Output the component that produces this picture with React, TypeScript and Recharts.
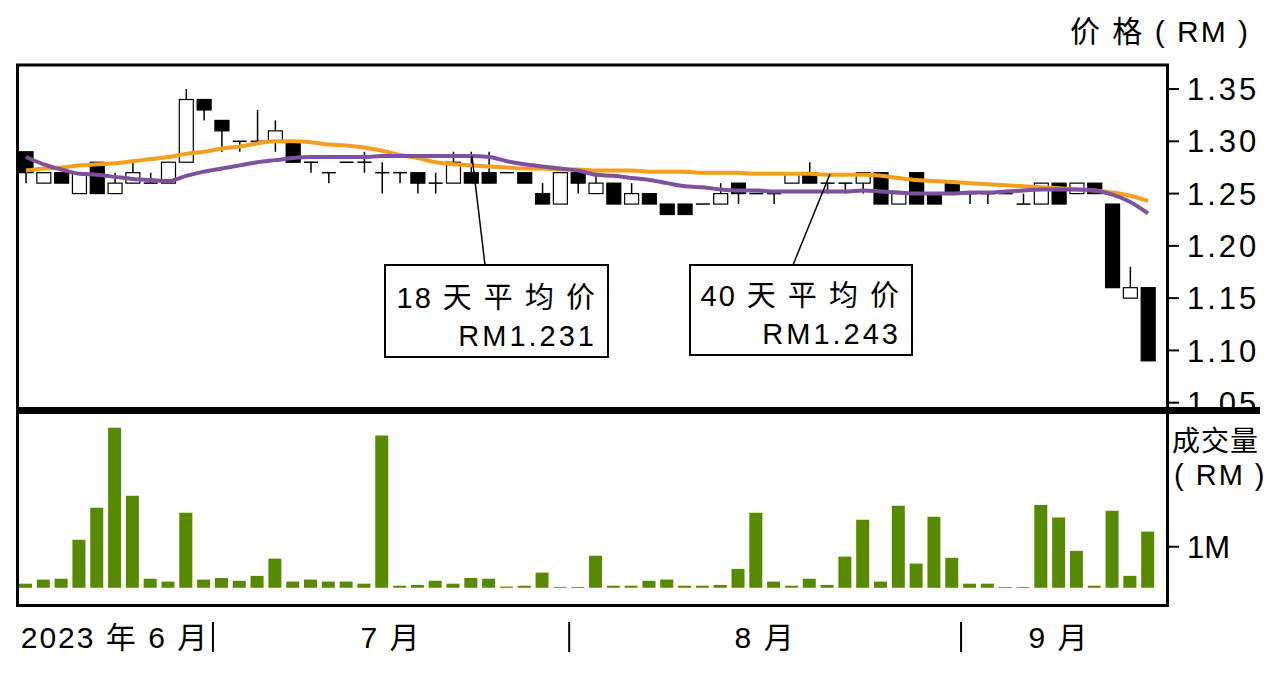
import React from 'react';
import { ComposedChart, Bar, Line, XAxis, YAxis } from 'recharts';

const FONT = "'Liberation Sans', Arial, 'Noto Sans CJK SC', sans-serif";

// trading days, mid June to mid September 2023
const dates = [
  '2023-06-15', '2023-06-16', '2023-06-19', '2023-06-20', '2023-06-21', '2023-06-22', '2023-06-23', '2023-06-26',
  '2023-06-27', '2023-06-28', '2023-06-30',
  '2023-07-03', '2023-07-04', '2023-07-05', '2023-07-06', '2023-07-07', '2023-07-10', '2023-07-11', '2023-07-12',
  '2023-07-13', '2023-07-14', '2023-07-17', '2023-07-18', '2023-07-20', '2023-07-21', '2023-07-24', '2023-07-25',
  '2023-07-26', '2023-07-27', '2023-07-28', '2023-07-31',
  '2023-08-01', '2023-08-02', '2023-08-03', '2023-08-04', '2023-08-07', '2023-08-08', '2023-08-09', '2023-08-10',
  '2023-08-11', '2023-08-14', '2023-08-15', '2023-08-16', '2023-08-17', '2023-08-18', '2023-08-21', '2023-08-22',
  '2023-08-23', '2023-08-24', '2023-08-25', '2023-08-28', '2023-08-29', '2023-08-30',
  '2023-09-01', '2023-09-04', '2023-09-05', '2023-09-06', '2023-09-07', '2023-09-08', '2023-09-11', '2023-09-12',
  '2023-09-13', '2023-09-14', '2023-09-15',
];

const open = [
  1.29, 1.26, 1.27, 1.25, 1.28, 1.25, 1.26, 1.26, 1.26, 1.28, 1.34, 1.32, 1.30, 1.30, 1.30, 1.30,
  1.28, 1.27, 1.28, 1.28, 1.27, 1.27, 1.27, 1.26, 1.26, 1.27, 1.27, 1.27, 1.27, 1.25, 1.24, 1.27,
  1.25, 1.26, 1.24, 1.25, 1.24, 1.24, 1.24, 1.24, 1.26, 1.25, 1.25, 1.26, 1.27, 1.26, 1.26, 1.26,
  1.27, 1.24, 1.27, 1.25, 1.26, 1.25, 1.25, 1.25, 1.24, 1.24, 1.26, 1.25, 1.26, 1.24, 1.15, 1.16,
];
const high = [
  1.29, 1.27, 1.27, 1.27, 1.28, 1.27, 1.28, 1.27, 1.28, 1.35, 1.34, 1.32, 1.30, 1.33, 1.32, 1.30,
  1.28, 1.27, 1.28, 1.29, 1.28, 1.27, 1.27, 1.27, 1.29, 1.29, 1.29, 1.27, 1.27, 1.26, 1.27, 1.27,
  1.27, 1.26, 1.26, 1.25, 1.24, 1.24, 1.24, 1.26, 1.26, 1.25, 1.25, 1.27, 1.28, 1.26, 1.26, 1.27,
  1.27, 1.25, 1.27, 1.25, 1.26, 1.25, 1.25, 1.25, 1.25, 1.26, 1.26, 1.26, 1.26, 1.24, 1.18, 1.16,
];
const low = [
  1.26, 1.26, 1.26, 1.25, 1.25, 1.25, 1.26, 1.26, 1.26, 1.28, 1.32, 1.29, 1.29, 1.30, 1.29, 1.28,
  1.27, 1.26, 1.28, 1.27, 1.25, 1.26, 1.25, 1.25, 1.26, 1.26, 1.26, 1.27, 1.26, 1.24, 1.24, 1.25,
  1.25, 1.24, 1.24, 1.24, 1.23, 1.23, 1.24, 1.24, 1.24, 1.25, 1.24, 1.26, 1.26, 1.25, 1.25, 1.25,
  1.24, 1.24, 1.24, 1.24, 1.25, 1.24, 1.24, 1.25, 1.24, 1.24, 1.24, 1.25, 1.25, 1.16, 1.15, 1.09,
];
const close = [
  1.27, 1.27, 1.26, 1.27, 1.25, 1.26, 1.27, 1.26, 1.28, 1.34, 1.33, 1.31, 1.30, 1.30, 1.31, 1.28,
  1.28, 1.27, 1.28, 1.28, 1.27, 1.27, 1.26, 1.26, 1.28, 1.26, 1.26, 1.27, 1.26, 1.24, 1.27, 1.26,
  1.26, 1.24, 1.25, 1.24, 1.23, 1.23, 1.24, 1.25, 1.25, 1.25, 1.25, 1.27, 1.26, 1.26, 1.26, 1.27,
  1.24, 1.25, 1.24, 1.24, 1.25, 1.25, 1.25, 1.25, 1.24, 1.26, 1.24, 1.26, 1.25, 1.16, 1.16, 1.09,
];

// 18-day and 40-day moving averages
const ma18 = [
  1.285, 1.278, 1.273, 1.269, 1.268, 1.266, 1.264, 1.263, 1.262, 1.267, 1.271, 1.274, 1.277, 1.280, 1.282, 1.284,
  1.285, 1.285, 1.285, 1.285, 1.286, 1.286, 1.286, 1.286, 1.286, 1.286, 1.285, 1.281, 1.278, 1.276, 1.274, 1.272,
  1.268, 1.267, 1.265, 1.263, 1.260, 1.257, 1.256, 1.254, 1.253, 1.253, 1.252, 1.252, 1.252, 1.252, 1.252, 1.253,
  1.252, 1.251, 1.250, 1.250, 1.250, 1.251, 1.251, 1.252, 1.253, 1.254, 1.254, 1.254, 1.253, 1.249, 1.242, 1.231,
];
const ma40 = [
  1.272, 1.274, 1.275, 1.277, 1.278, 1.279, 1.281, 1.283, 1.285, 1.288, 1.290, 1.293, 1.295, 1.298, 1.300, 1.300,
  1.299, 1.297, 1.296, 1.294, 1.291, 1.287, 1.284, 1.280, 1.278, 1.277, 1.276, 1.275, 1.274, 1.274, 1.273, 1.273,
  1.272, 1.272, 1.272, 1.271, 1.271, 1.271, 1.270, 1.270, 1.270, 1.269, 1.269, 1.269, 1.269, 1.268, 1.268, 1.268,
  1.267, 1.265, 1.263, 1.262, 1.261, 1.260, 1.259, 1.258, 1.257, 1.256, 1.255, 1.254, 1.253, 1.251, 1.248, 1.243,
];

// volume, RM million
const volume = [
  0.10, 0.20, 0.22, 1.17, 1.95, 3.90, 2.24, 0.22, 0.15, 1.83, 0.20, 0.24, 0.17, 0.29, 0.71, 0.15,
  0.20, 0.15, 0.15, 0.10, 3.71, 0.05, 0.07, 0.17, 0.10, 0.24, 0.22, 0.03, 0.05, 0.37, 0.02, 0.02,
  0.78, 0.05, 0.05, 0.17, 0.20, 0.05, 0.05, 0.07, 0.46, 1.83, 0.15, 0.05, 0.22, 0.07, 0.76, 1.66,
  0.15, 2.00, 0.59, 1.73, 0.73, 0.10, 0.10, 0.02, 0.02, 2.02, 1.71, 0.90, 0.05, 1.88, 0.29, 1.37,
];

const monthLabels = ['2023 年 6 月', '7 月', '8 月', '9 月'];
const priceTicks = [1.05, 1.1, 1.15, 1.2, 1.25, 1.3, 1.35];
const volumeTicks = [1];

const data = dates.map((date, i) => ({
  date,
  open: open[i],
  high: high[i],
  low: low[i],
  close: close[i],
  ma18: ma18[i],
  ma40: ma40[i],
  volume: volume[i],
}));

const monthStarts = dates
  .map((d, i) => (i === 0 || d.slice(5, 7) !== dates[i - 1].slice(5, 7) ? i : -1))
  .filter((i) => i >= 0);
const monthLens = monthStarts.map((s, k) => (k < monthStarts.length - 1 ? monthStarts[k + 1] : dates.length) - s);

const Candle = (props: any) => {
  const { x, y, width, height, payload } = props;
  const { open: o, close: c, high: h, low: l } = payload;
  const cx = x + width / 2;
  const span = h - l;
  const k = span > 0 ? height / span : 0;
  const yOf = (v: number) => y + (h - v) * k;
  const top = yOf(Math.max(o, c));
  const bot = yOf(Math.min(o, c));
  const up = c >= o;
  return (
    <g>
      <line x1={cx} x2={cx} y1={yOf(h)} y2={yOf(l)} stroke="#000" strokeWidth={1.5} />
      {bot - top < 1 ? (
        <line x1={x} x2={x + width} y1={top} y2={top} stroke="#000" strokeWidth={1.5} />
      ) : (
        <rect x={x} y={top} width={width} height={bot - top} fill={up ? '#fff' : '#000'} stroke="#000" strokeWidth={1.2} />
      )}
    </g>
  );
};

const PriceTick = ({ x, y, payload }: any) => (
  <text x={x} y={y} dy="0.36em" fontSize={31} fontFamily={FONT} letterSpacing={3} fill="#000">
    {payload.value.toFixed(2)}
  </text>
);

const VolumeTick = ({ x, y, payload }: any) => (
  <text x={x} y={y} dy="0.36em" fontSize={31} fontFamily={FONT} fill="#000">
    {payload.value}M
  </text>
);

const MonthTick = ({ x, y, payload }: any) => {
  const k = monthStarts.findIndex((s) => dates[s] === payload.value);
  if (k < 0) return null;
  const half = payload.offset ?? 8.9;
  const left = x - half;
  const mid = left + monthLens[k] * half;
  return (
    <g>
      {k > 0 && <line x1={left} x2={left} y1={y + 17} y2={y + 47} stroke="#000" strokeWidth={2} />}
      <text x={mid} y={y + 43} textAnchor="middle" fontSize={30} fontFamily={FONT} letterSpacing={2} fill="#000">
        {monthLabels[k]}
      </text>
    </g>
  );
};

const W = 1277;

export default function App() {
  return (
    <div style={{ position: 'absolute', left: 0, top: 0, width: W, height: 682, background: '#fff', fontFamily: FONT }}>
      <div style={{ position: 'absolute', left: 0, top: 0 }}>
        <ComposedChart width={W} height={420} data={data} margin={{ top: 65, right: 0, bottom: 10, left: 17 }}>
          <XAxis dataKey="date" hide padding={{ left: 0, right: 10 }} />
          <YAxis
            orientation="right"
            width={110}
            domain={[1.043, 1.373]}
            ticks={priceTicks}
            allowDataOverflow
            axisLine={false}
            tickSize={12}
            tickMargin={8}
            tickLine={{ stroke: '#000', strokeWidth: 2 }}
            tick={<PriceTick />}
          />
          <Bar
            dataKey={(d: any) => [d.low, d.high]}
            barSize={14}
            shape={(p: any) => <Candle {...p} />}
            isAnimationActive={false}
          />
          <Line dataKey="ma40" type="monotone" stroke="#F4A01E" strokeWidth={4} dot={false} isAnimationActive={false} />
          <Line dataKey="ma18" type="monotone" stroke="#7D50A0" strokeWidth={4} dot={false} isAnimationActive={false} />
        </ComposedChart>
      </div>
      <div style={{ position: 'absolute', left: 0, top: 405 }}>
        <ComposedChart width={W} height={277} data={data} margin={{ top: 8, right: 0, bottom: 0, left: 17 }}>
          <XAxis
            dataKey="date"
            height={77}
            padding={{ left: 0, right: 10 }}
            axisLine={false}
            tickLine={false}
            tickSize={0}
            tickMargin={0}
            ticks={monthStarts.map((i) => dates[i])}
            interval={0}
            tick={<MonthTick />}
          />
          <YAxis
            orientation="right"
            width={110}
            domain={[-0.42, 4.26]}
            ticks={volumeTicks}
            allowDataOverflow
            axisLine={false}
            tickSize={12}
            tickMargin={8}
            tickLine={{ stroke: '#000', strokeWidth: 2 }}
            tick={<VolumeTick />}
          />
          <Bar dataKey="volume" barSize={13} fill="#588A00" isAnimationActive={false} />
        </ComposedChart>
      </div>
      <svg width={W} height={682} style={{ position: 'absolute', left: 0, top: 0, pointerEvents: 'none' }}>
        <rect x={17.5} y={65} width={1150} height={540.5} fill="none" stroke="#000" strokeWidth={3} />
        <rect x={16} y={407} width={1244} height={7} fill="#000" />
        <text x={1250} y={42} textAnchor="end" fontSize={30} fontFamily={FONT} letterSpacing={2} fill="#000">
          价 格 ( RM )
        </text>
        <text x={1172} y={451} fontSize={28} fontFamily={FONT} letterSpacing={1} fill="#000">成交量</text>
        <text x={1174} y={485} fontSize={29} fontFamily={FONT} letterSpacing={2} fill="#000">( RM )</text>

        <line x1={485} y1={265} x2={472} y2={156} stroke="#000" strokeWidth={1.5} />
        <rect x={385} y={265} width={223} height={92} fill="#fff" stroke="#000" strokeWidth={2} />
        <text x={597} y={308} textAnchor="end" fontSize={29} fontFamily={FONT} letterSpacing={2} fill="#000">18 天 平 均 价</text>
        <text x={597} y={346} textAnchor="end" fontSize={29} fontFamily={FONT} letterSpacing={3} fill="#000">RM1.231</text>

        <line x1={793} y1={265} x2={830} y2={174} stroke="#000" strokeWidth={1.5} />
        <rect x={690} y={265} width={222} height={90} fill="#fff" stroke="#000" strokeWidth={2} />
        <text x={901} y={306} textAnchor="end" fontSize={29} fontFamily={FONT} letterSpacing={2} fill="#000">40 天 平 均 价</text>
        <text x={901} y={344} textAnchor="end" fontSize={29} fontFamily={FONT} letterSpacing={3} fill="#000">RM1.243</text>
      </svg>
    </div>
  );
}
